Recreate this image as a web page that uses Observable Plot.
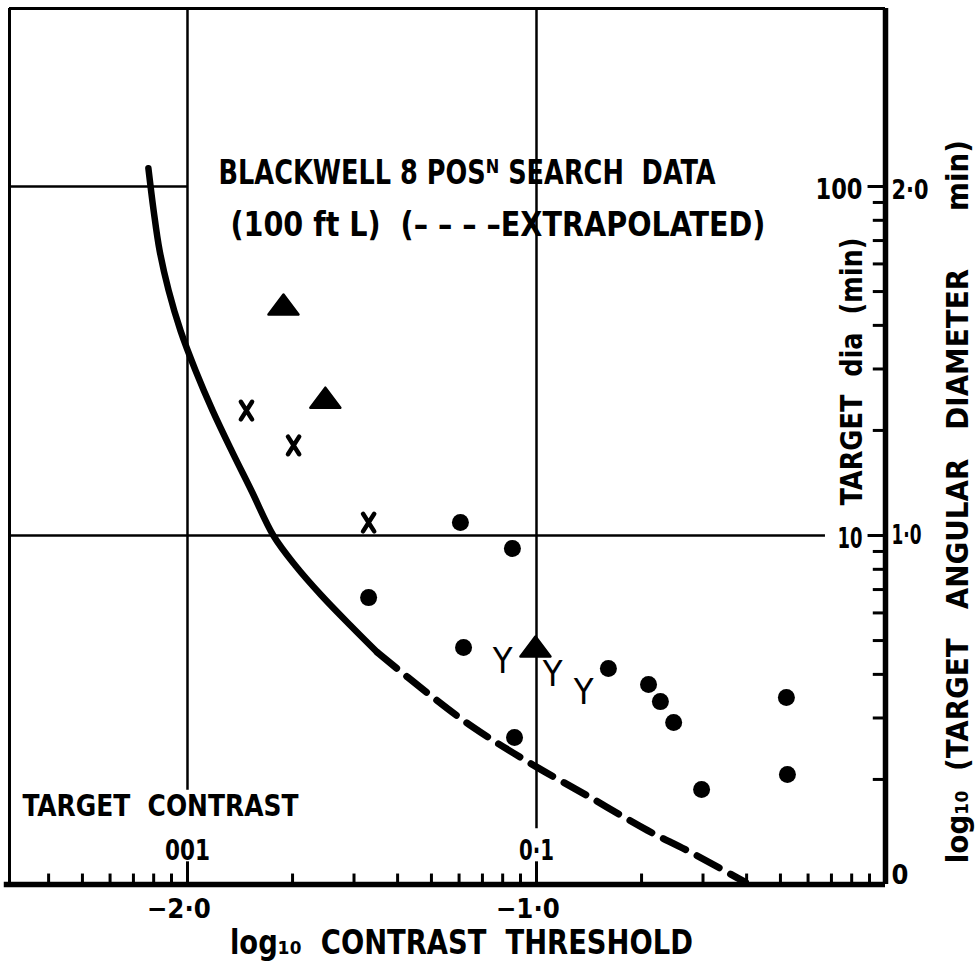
<!DOCTYPE html>
<html>
<head>
<meta charset="utf-8">
<script src="https://cdn.jsdelivr.net/npm/d3@7"></script>
<script src="https://cdn.jsdelivr.net/npm/@observablehq/plot@0.6"></script>
<style>
  html, body { margin: 0; padding: 0; background: #fff; }
  #chart svg { display: block; }
  #chart text { white-space: pre; }
</style>
</head>
<body>
<div id="chart"></div>
<script>
// ---- data (log10 contrast threshold, log10 target diameter in min) ----
const solidX = [-2.112, -2.097, -2.080, -2.054, -2.020, -1.977, -1.928, -1.874, -1.817, -1.754, -1.691, -1.616, -1.533, -1.456];
const solidY = [2.052, 1.931, 1.817, 1.702, 1.587, 1.473, 1.358, 1.244, 1.129, 1.000, 0.914, 0.828, 0.742, 0.665];
const dashX  = [-1.456, -1.304, -1.181, -1.017, -0.845, -0.682, -0.567, -0.401];
const dashY  = [0.665, 0.542, 0.450, 0.347, 0.249, 0.155, 0.097, 0.006];

const circleX = [-1.218, -1.069, -1.481, -1.209, -1.063, -0.794, -0.679, -0.645, -0.607, -0.527, -0.284, -0.281];
const circleY = [1.037, 0.963, 0.822, 0.679, 0.421, 0.619, 0.573, 0.524, 0.464, 0.272, 0.536, 0.315];
const triX = [-1.725, -1.605, -1.003];
const triY = [1.662, 1.395, 0.682];
const crossX = [-1.831, -1.696, -1.481];
const crossY = [1.358, 1.258, 1.037];
const yMarkX = [-1.097, -0.954, -0.865];
const yMarkY = [0.639, 0.602, 0.550];

// axis ticks
const minorContrast = [0.004, 0.005, 0.006, 0.007, 0.008, 0.009, 0.02, 0.03, 0.04, 0.05, 0.06, 0.07, 0.08, 0.09, 0.2, 0.3, 0.4, 0.5, 0.6, 0.7, 0.8, 0.9];
const majorContrast = [0.01, 0.1];
const minorDia = [2, 3, 4, 5, 6, 7, 8, 9, 20, 30, 40, 50, 60, 70, 80, 90];
const majorDia = [10, 100];
const xTickValues = [-2, -1];
const xTickLabels = ["\u22122\u00b70", "\u22121\u00b70"];
const contrastLabels = ["001", "0\u00b71"];
const yTickLabels = ["2\u00b70", "1\u00b70", "0"];
const diaLabels = ["100", "10"];

const TITLE1 = "BLACKWELL 8 POS\u1d3a SEARCH  DATA";
const TITLE2 = "(100 ft L)  (\u2013 \u2013 \u2013 \u2013EXTRAPOLATED)";
const XTITLE = "log\u2081\u2080  CONTRAST  THRESHOLD";
const INNER = "TARGET  CONTRAST";
const YTITLE1 = "TARGET  dia  (min)";
const YTITLE2 = "log\u2081\u2080  (TARGET   ANGULAR   DIAMETER      min)";

const FONT = "'DejaVu Sans Condensed', 'DejaVu Sans', sans-serif";

const solid = solidX.map((x, i) => ({x, y: solidY[i]}));
const dashed = dashX.map((x, i) => ({x, y: dashY[i]}));
const circles = circleX.map((x, i) => ({x, y: circleY[i]}));
const tris = triX.map((x, i) => ({x, y: triY[i]}));
const crosses = crossX.map((x, i) => ({x, y: crossY[i]}));
const yMarks = yMarkX.map((x, i) => ({x, y: yMarkY[i]}));

const flatTriangle = {
  draw(ctx, size) {
    const r = Math.sqrt(size / Math.PI);
    ctx.moveTo(0, -r);
    ctx.lineTo(1.5 * r, r);
    ctx.lineTo(-1.5 * r, r);
    ctx.closePath();
  }
};
const handCross = {
  draw(ctx, size) {
    const r = Math.sqrt(size / Math.PI);
    ctx.moveTo(-0.35 * r, -0.55 * r);
    ctx.lineTo(0.35 * r, 0.55 * r);
    ctx.moveTo(0.35 * r, -0.55 * r);
    ctx.lineTo(-0.35 * r, 0.55 * r);
  }
};

const X0 = -2.51, X1 = 0, Y0 = 0, Y1 = 2.51;
const B = {fill: "#000", fontWeight: "bold", lineAnchor: "middle"};

const chart = Plot.plot({
  width: 980,
  height: 969,
  marginLeft: 9,
  marginRight: 95,
  marginTop: 8,
  marginBottom: 85,
  x: {domain: [X0, X1], axis: null},
  y: {domain: [Y0, Y1], axis: null},
  style: {background: "#fff", fontFamily: FONT, color: "#000"},
  marks: [
    // grid lines
    Plot.ruleX([-2], {y1: 0.27, y2: Y1, stroke: "#000", strokeWidth: 2.5}),
    Plot.ruleX([-1], {y1: 0.16, y2: Y1, stroke: "#000", strokeWidth: 2.5}),
    Plot.ruleY([1], {x1: X0, x2: -0.172, stroke: "#000", strokeWidth: 2.5}),
    Plot.ruleY([2], {x1: X0, x2: -2, stroke: "#000", strokeWidth: 2.5}),
    // frame
    Plot.ruleX([X0], {stroke: "#000", strokeWidth: 3}),
    Plot.ruleY([Y1], {stroke: "#000", strokeWidth: 3}),
    Plot.ruleX([X1], {stroke: "#000", strokeWidth: 5.5}),
    Plot.ruleY([Y0], {x1: X0 - 0.015, x2: X1, stroke: "#000", strokeWidth: 5.5}),
    // bottom ticks (inside)
    Plot.ruleX(minorContrast, {x: d => Math.log10(d), y1: 0, y2: 0.03, stroke: "#000", strokeWidth: 3}),
    Plot.ruleX(majorContrast, {x: d => Math.log10(d), y1: 0, y2: 0.065, stroke: "#000", strokeWidth: 3}),
    // right ticks (inside)
    Plot.ruleY(minorDia, {y: d => Math.log10(d), x1: -0.035, x2: 0, stroke: "#000", strokeWidth: 3}),
    Plot.ruleY(majorDia, {y: d => Math.log10(d), x1: -0.05, x2: 0, stroke: "#000", strokeWidth: 3}),
    // curve
    Plot.line(solid, {x: "x", y: "y", curve: "catmull-rom", stroke: "#000", strokeWidth: 6.5, strokeLinecap: "round"}),
    Plot.line(dashed, {x: "x", y: "y", curve: "catmull-rom", stroke: "#000", strokeWidth: 7, strokeDasharray: "25,13"}),
    // markers
    Plot.dot(circles, {x: "x", y: "y", r: 8.5, fill: "#000", stroke: "none"}),
    Plot.dot(tris, {x: "x", y: "y", r: 10, symbol: flatTriangle, fill: "#000", stroke: "#000", strokeWidth: 2.5, strokeLinejoin: "round"}),
    Plot.dot(crosses, {x: "x", y: "y", r: 16, symbol: handCross, fill: "none", stroke: "#000", strokeWidth: 4.5, strokeLinecap: "round"}),
    Plot.text(yMarks, {x: "x", y: "y", text: () => "Y", fontSize: 36, fill: "#000", textAnchor: "middle", lineAnchor: "middle"}),
    // title texts
    Plot.text([TITLE1], {...B, x: -1.911, y: 2.037, textAnchor: "start", fontSize: 34}),
    Plot.text([TITLE2], {...B, x: -1.877, y: 1.888, textAnchor: "start", fontSize: 33}),
    // inner bottom labels
    Plot.text([INNER], {...B, x: -2.473, y: 0.223, textAnchor: "start", fontSize: 30}),
    Plot.text(contrastLabels, {...B, x: (d, i) => xTickValues[i], y: 0.097, textAnchor: "middle", fontSize: 29}),
    // bottom tick labels and title
    Plot.text(xTickLabels, {...B, x: (d, i) => xTickValues[i] - 0.025, y: -0.072, textAnchor: "middle", fontSize: 27}),
    Plot.text([XTITLE], {...B, x: -1.215, y: -0.17, textAnchor: "middle", fontSize: 33}),
    // right tick labels
    Plot.text(yTickLabels, {...B, x: X1, y: (d, i) => [1.99, 1.0, 0.025][i], dx: 6, textAnchor: "start", fontSize: 27}),
    Plot.text(diaLabels, {...B, x: -0.066, y: (d, i) => [1.99, 0.99][i], textAnchor: "end", fontSize: 28}),
    // rotated titles
    Plot.text([YTITLE1], {...B, x: -0.0946, y: 1.47, rotate: -90, textAnchor: "middle", fontSize: 31}),
    Plot.text([YTITLE2], {...B, x: 0.209, y: 1.097, rotate: -90, textAnchor: "middle", fontSize: 31})
  ]
});

// fit text widths to the reference lettering (condensed hand lettering)
const fitWidths = new Map([
  [TITLE1, 497], [TITLE2, 535], [XTITLE, 463], [INNER, 276],
  [YTITLE1, 268], [YTITLE2, 723],
  ["100", 47], ["10", 25], ["001", 45], ["0\u00b71", 35],
  ["\u22122\u00b70", 64], ["\u22121\u00b70", 64], ["2\u00b70", 37], ["1\u00b70", 30]
]);
chart.querySelectorAll("text").forEach(t => {
  const w = fitWidths.get(t.textContent);
  if (w) {
    t.setAttribute("textLength", w);
    t.setAttribute("lengthAdjust", "spacingAndGlyphs");
  }
});

document.getElementById("chart").appendChild(chart);
</script>
</body>
</html>
